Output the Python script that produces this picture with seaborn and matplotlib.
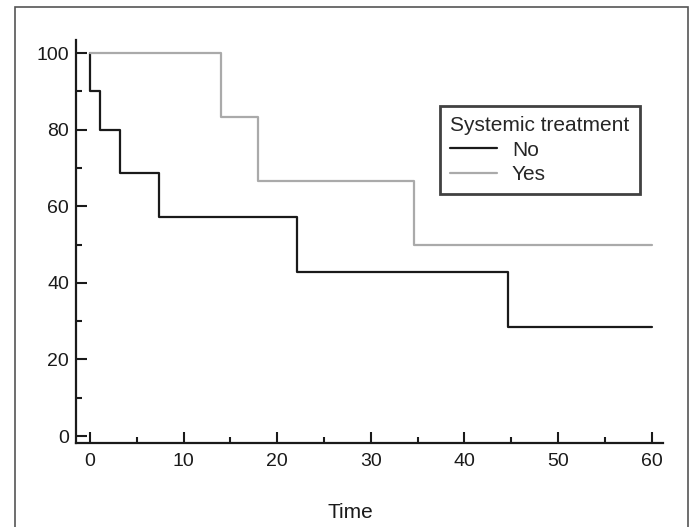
import pandas as pd
import matplotlib.pyplot as plt
import seaborn as sns
from matplotlib.patches import Rectangle
from matplotlib.ticker import MultipleLocator

# Kaplan-Meier step data
no_time = [0, 0, 1.1, 3.2, 7.4, 22.1, 44.7, 60]
no_surv = [100, 90, 80, 68.6, 57.1, 42.9, 28.6, 28.6]
yes_time = [0, 14.0, 17.9, 34.6, 60]
yes_surv = [100, 83.3, 66.7, 50, 50]

groups = ["No", "Yes"]
colors = {"No": "#1a1a1a", "Yes": "#aaaaaa"}

df = pd.concat([
    pd.DataFrame({"time": no_time, "survival": no_surv, "treatment": "No"}),
    pd.DataFrame({"time": yes_time, "survival": yes_surv, "treatment": "Yes"}),
], ignore_index=True)

sns.set_style("ticks")
plt.rcParams['font.family'] = ['Liberation Sans', 'DejaVu Sans']

fig = plt.figure(figsize=(6.96, 5.27), dpi=100)
ax = fig.add_axes([0.109, 0.1594, 0.8436, 0.7647])

sns.lineplot(data=df, x="time", y="survival", hue="treatment", hue_order=groups,
             palette=colors, estimator=None, sort=False, drawstyle="steps-post",
             linewidth=1.6, ax=ax)

ax.set_xlim(-1.5, 61.2)
ax.set_ylim(-1.8, 103.4)
ax.xaxis.set_major_locator(MultipleLocator(10))
ax.xaxis.set_minor_locator(MultipleLocator(5))
ax.yaxis.set_major_locator(MultipleLocator(20))
ax.yaxis.set_minor_locator(MultipleLocator(10))
ax.tick_params(which="major", direction="in", length=8, width=1.5, labelsize=14,
               colors="#1a1a1a")
ax.tick_params(which="minor", direction="in", length=4.5, width=1.5, colors="#1a1a1a")
ax.tick_params(axis="y", pad=5)
ax.tick_params(axis="x", pad=7)
for side in ["top", "right"]:
    ax.spines[side].set_visible(False)
for side in ["left", "bottom"]:
    ax.spines[side].set_linewidth(1.6)
    ax.spines[side].set_color("#1a1a1a")
ax.set_xlabel("")
ax.set_ylabel("")

fig.text(350 / 696, 1 - 512 / 527, "Time", ha="center", va="center", fontsize=15,
         color="#1a1a1a")

leg = ax.legend(title="Systemic treatment", loc="upper left",
                bbox_to_anchor=(440 / 696, 1 - 106 / 527), bbox_transform=fig.transFigure,
                borderaxespad=0, fontsize=15, title_fontsize=15, frameon=True,
                fancybox=False, handlelength=2.25, handletextpad=0.7,
                labelspacing=0.25, borderpad=0.5, alignment="left")
leg.get_frame().set_edgecolor("#111111")
leg.get_frame().set_linewidth(2.0)
for line in leg.get_lines():
    line.set_linewidth(1.6)

# outer frame around the figure
fig.patches.append(Rectangle((15 / 696, -0.01), 673 / 696, 1 - 7 / 527 + 0.01,
                             transform=fig.transFigure, fill=False,
                             edgecolor="#555555", linewidth=1.2))

fig.savefig("out.png", dpi=100)
